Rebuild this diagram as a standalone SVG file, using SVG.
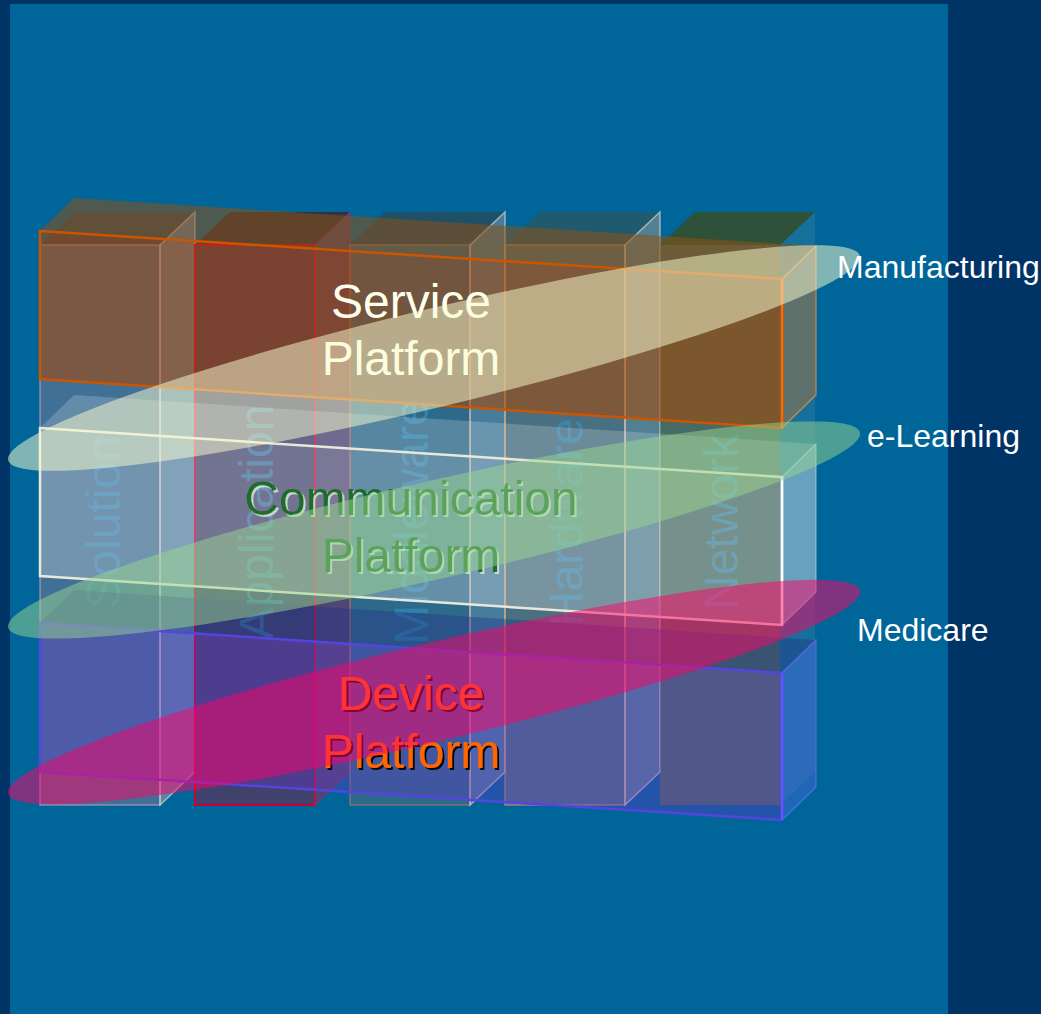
<svg xmlns="http://www.w3.org/2000/svg" width="1041" height="1014" viewBox="0 0 1041 1014">
<style>
  text { font-family: "Liberation Sans", Arial, sans-serif; }
  .plat { font-size: 48px; text-anchor: middle; }
  .collabel { font-size: 48px; text-anchor: middle; fill: #3399cc; fill-opacity: 0.55; }
  .sector { font-size: 32px; fill: #ffffff; }
  .colside { stroke: #f0e0d8; stroke-opacity: 0.6; stroke-width: 1.5; }
</style>
<defs>
  <filter id="shadowDark" x="-5%" y="-20%" width="115%" height="150%">
    <feDropShadow dx="2" dy="2" stdDeviation="0.3" flood-color="#000000" flood-opacity="0.9"/>
  </filter>
  <filter id="shadowLight" x="-5%" y="-20%" width="115%" height="150%">
    <feDropShadow dx="2" dy="2" stdDeviation="0.3" flood-color="#d8ecd8" flood-opacity="0.8"/>
  </filter>
</defs>

<g id="background">
  <rect x="0" y="0" width="1041" height="1014" fill="#003366"/>
  <rect x="10" y="4" width="938" height="1010" fill="#006699"/>
</g>

<g id="columns">
  <g id="col-solution">
    <polygon points="40,245 75,212 195,212 160,245" fill="#504040" fill-opacity="0.55"/>
    <rect x="40" y="245" width="120" height="560" fill="#a08090" fill-opacity="0.4" stroke="#e0a0c0" stroke-opacity="0.6" stroke-width="1.5"/>
    <polygon class="colside" points="160,245 195,212 195,772 160,805" fill="#c0a8b8" fill-opacity="0.45"/>
    <text class="collabel" transform="translate(120,522) rotate(-90)">Solution</text>
  </g>
  <g id="col-application">
    <polygon points="195,245 230,212 350,212 315,245" fill="#4a1010" fill-opacity="0.6"/>
    <rect x="195" y="245" width="120" height="560" fill="#901438" fill-opacity="0.45" stroke="#cc0033" stroke-width="2"/>
    <polygon points="315,245 350,212 350,772 315,805" fill="#aa2244" fill-opacity="0.45" stroke="#cc2255" stroke-opacity="0.6" stroke-width="1"/>
    <text class="collabel" transform="translate(273,522) rotate(-90)">Application</text>
  </g>
  <g id="col-middleware">
    <polygon points="350,245 385,212 505,212 470,245" fill="#403838" fill-opacity="0.5"/>
    <rect x="350" y="245" width="120" height="560" fill="#807070" fill-opacity="0.35" stroke="#aa7766" stroke-opacity="0.7" stroke-width="1.5"/>
    <polygon class="colside" points="470,245 505,212 505,772 470,805" fill="#b0a0a0" fill-opacity="0.4"/>
    <text class="collabel" transform="translate(428,522) rotate(-90)">Middleware</text>
  </g>
  <g id="col-hardware">
    <polygon points="505,245 540,212 660,212 625,245" fill="#504830" fill-opacity="0.4"/>
    <rect x="505" y="245" width="120" height="560" fill="#ce8358" fill-opacity="0.35" stroke="#e0a060" stroke-opacity="0.6" stroke-width="1.5"/>
    <polygon class="colside" points="625,245 660,212 660,772 625,805" fill="#c8a888" fill-opacity="0.4"/>
    <text class="collabel" transform="translate(583,522) rotate(-90)">Hardware</text>
  </g>
  <g id="col-network">
    <polygon points="660,245 695,212 815,212 780,245" fill="#404a10" fill-opacity="0.7"/>
    <rect x="660" y="245" width="120" height="560" fill="#807038" fill-opacity="0.55"/>
    <polygon points="780,245 815,212 815,772 780,805" fill="#99aaaa" fill-opacity="0.15"/>
    <text class="collabel" transform="translate(738,522) rotate(-90)">Network</text>
  </g>
</g>

<g id="slabs">
  <g id="slab-service">
    <polygon points="40,231 74,198 816,246 782,279" fill="#8e5012" fill-opacity="0.55"/>
    <polygon points="782,279 816,246 816,395 782,428" fill="#bb7030" fill-opacity="0.45" stroke="#ff9944" stroke-opacity="0.7" stroke-width="1.2"/>
    <polygon points="40,231 782,279 782,428 40,379" fill="#aa4600" fill-opacity="0.55" stroke="#cc5500" stroke-width="2.5"/>
    <line x1="782" y1="279" x2="782" y2="428" stroke="#ff6600" stroke-width="2.5"/>
    <text class="plat" x="411" y="318" fill="#ffffee">Service</text>
    <text class="plat" x="411" y="375" fill="#ffffee">Platform</text>
  </g>
  <g id="slab-communication">
    <polygon points="40,428 74,395 816,444 782,477" fill="#e8eef0" fill-opacity="0.22"/>
    <polygon points="782,477 816,444 816,592 782,625" fill="#e8f4f8" fill-opacity="0.38" stroke="#f0f0e8" stroke-opacity="0.5" stroke-width="1.2"/>
    <polygon points="40,428 782,477 782,625 40,576" fill="#e8e8e8" fill-opacity="0.3" stroke="#e8e8d8" stroke-width="2.5"/>
    <line x1="782" y1="477" x2="782" y2="625" stroke="#ffffff" stroke-width="2.5"/>
    <g filter="url(#shadowLight)">
      <text class="plat" x="411" y="515" fill="#1f6e2c">Communication</text>
      <text class="plat" x="411" y="572" fill="#1f6e2c">Platform</text>
    </g>
  </g>
  <g id="slab-device">
    <polygon points="40,623 74,590 816,640 782,673" fill="#223388" fill-opacity="0.4"/>
    <polygon points="782,673 816,640 816,787 782,820" fill="#4466dd" fill-opacity="0.45" stroke="#7777ff" stroke-opacity="0.6" stroke-width="1.2"/>
    <polygon points="40,623 782,673 782,820 40,772" fill="#6633cc" fill-opacity="0.35" stroke="#5544dd" stroke-width="2.5"/>
    <line x1="782" y1="673" x2="782" y2="820" stroke="#6655ff" stroke-width="2.5"/>
    <g filter="url(#shadowDark)">
      <text class="plat" x="411" y="710" fill="#ff6600">Device</text>
      <text class="plat" x="411" y="768" fill="#ff6600">Platform</text>
    </g>
  </g>
</g>

<g id="sectors">
  <g id="sector-manufacturing">
    <ellipse cx="434" cy="358" rx="438" ry="49" transform="rotate(-13.5 434 358)" fill="#f8fcd0" fill-opacity="0.52"/>
    <text class="sector" x="837" y="278">Manufacturing</text>
  </g>
  <g id="sector-elearning">
    <ellipse cx="434" cy="530" rx="437" ry="49" transform="rotate(-12.9 434 530)" fill="#99d58f" fill-opacity="0.5"/>
    <text class="sector" x="867" y="447">e-Learning</text>
  </g>
  <g id="sector-medicare">
    <ellipse cx="434" cy="692" rx="438" ry="49" transform="rotate(-13.4 434 692)" fill="#ff0066" fill-opacity="0.5"/>
    <text class="sector" x="857" y="641">Medicare</text>
  </g>
</g>

<g id="connectors"/>
</svg>
